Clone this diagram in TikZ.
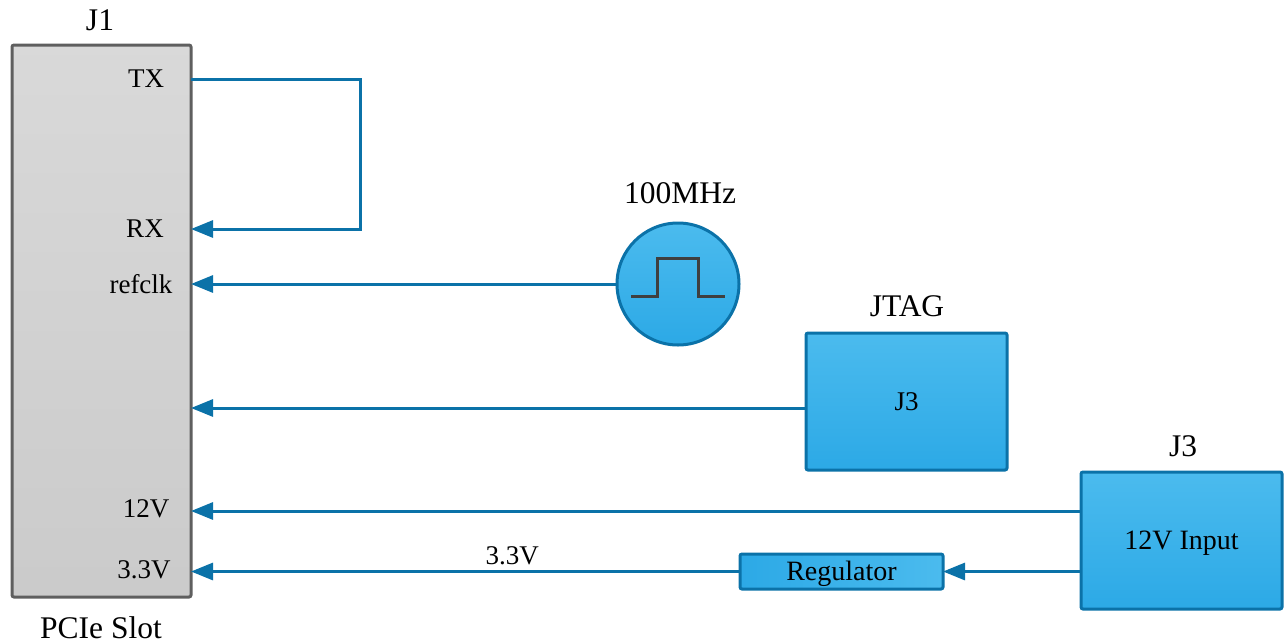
\documentclass[tikz,border=0pt]{standalone}
\usepackage{fontspec}
\setmainfont{Liberation Serif}
\usetikzlibrary{arrows.meta}
\definecolor{wireblue}{HTML}{0B72A8}
\definecolor{boxtop}{HTML}{4BBBEE}
\definecolor{boxbot}{HTML}{2CA9E6}
\definecolor{jgray}{HTML}{5F5F5F}
\definecolor{wavegray}{HTML}{3F3F3F}
\tikzset{
  wire/.style={draw=wireblue, line width=1.5pt},
  arrowwire/.style={wire, -{Triangle[length=11pt,width=8.5pt]}},
  bluebox/.style={draw=wireblue, line width=1.5pt, top color=boxtop, bottom color=boxbot, rounded corners=1pt, outer sep=0pt, inner sep=0pt, text height=12pt, text depth=3pt, font=\fontsize{14}{16}\selectfont},
  title/.style={font=\fontsize{15.75}{18}\selectfont, inner sep=0pt, anchor=base},
  pin/.style={font=\fontsize{13.5}{15}\selectfont, inner sep=0pt},
}
\begin{document}
\begin{tikzpicture}[x=0.5pt,y=-0.5pt]
\useasboundingbox (0,0) rectangle (1285,643);
% J1 PCIe slot
\node[draw=jgray, line width=1.5pt, top color=gray!30, bottom color=gray!41, rounded corners=1pt, outer sep=0pt, minimum width=89.5pt, minimum height=276pt] (J1) at (101.5,321) {};
\node[title] (J1t) at (100,30) {J1};
\node[title] (pcie) at (101,638) {PCIe Slot};
\node[pin] (tx) at (146,79) {TX};
\node[pin] (rx) at (145,229) {RX};
\node[pin] (refclk) at (141,284) {refclk};
\node[pin] (v12) at (146,509) {12V};
\node[pin] (v33) at (144,570) {3.3V};
\coordinate (jtagpin) at (191,408);
% oscillator
\node[circle, draw=wireblue, line width=1.5pt, top color=boxtop, bottom color=boxbot, minimum size=61pt, inner sep=0pt, outer sep=0pt] (osc) at (678,284) {};
\node[title] (osct) at (680,203) {100MHz};
\draw[wavegray, line width=1.5pt] (631,296) -- (657,296) -- (657,258) -- (698,258) -- (698,296) -- (725,296);
% JTAG
\node[bluebox, font=\fontsize{13.5}{15}\selectfont, minimum width=100.5pt, minimum height=68.5pt] (jtag) at (906.5,401.5) {J3};
\node[title] (jtagt) at (907,316) {JTAG};
% J3 12V input
\node[bluebox, minimum width=100.5pt, minimum height=68.5pt] (j3) at (1181.5,540.5) {12V Input};
\node[title] (j3t) at (1183,456) {J3};
% Regulator
\node[bluebox, left color=boxbot, right color=boxtop, minimum width=101.5pt, minimum height=17.5pt] (reg) at (841.5,571.5) {Regulator};
% wires
\coordinate (loop) at (360,79);
\draw[arrowwire] (J1.east |- tx) -- (loop) -- (loop |- rx) -- (J1.east |- rx);
\draw[arrowwire] (osc.west) -- (J1.east |- osc.west);
\draw[arrowwire] (jtag.west |- jtagpin) -- (jtagpin);
\draw[arrowwire] (j3.west |- 0,511) -- (J1.east |- 0,511);
\draw[arrowwire] (j3.west |- reg.east) -- (reg.east);
\draw[arrowwire] (reg.west) -- node[pos=0.415, above=2.5pt, font=\fontsize{13.5}{15}\selectfont, inner sep=0pt] {3.3V} (J1.east |- reg.west);
\end{tikzpicture}
\end{document}
